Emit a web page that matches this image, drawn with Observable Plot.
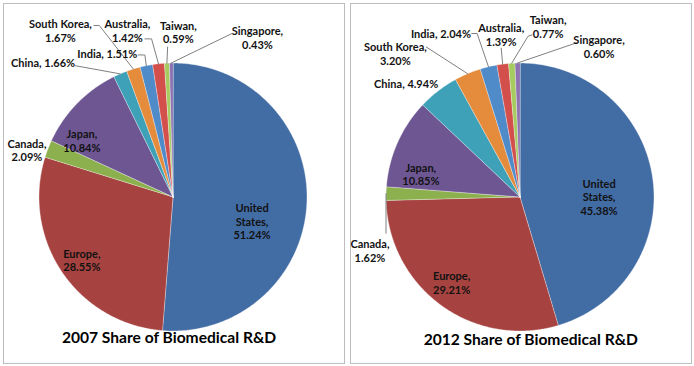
<!DOCTYPE html>
<html><head><meta charset="utf-8">
<script src="https://cdn.jsdelivr.net/npm/d3@7"></script>
<script src="https://cdn.jsdelivr.net/npm/@observablehq/plot@0.6"></script>
<style>
body{margin:0;background:#fff;}
#chart{width:694px;height:366px;}
</style></head><body><div id="chart"></div>
<script>
// ---- data ----
const countries = ["United States","Europe","Canada","Japan","China","South Korea","India","Australia","Taiwan","Singapore"];
const share2007 = [51.24, 28.55, 2.09, 10.84, 1.66, 1.67, 1.51, 1.42, 0.59, 0.43];
const share2012 = [45.38, 29.21, 1.62, 10.85, 4.94, 3.20, 2.04, 1.39, 0.77, 0.60];
const years = ["2007", "2012"];
const titles = ["2007 Share of Biomedical R&D", "2012 Share of Biomedical R&D"];
const colors = ["#426ca4","#a6423f","#8db04e","#6e5692","#3fa1b8","#e58b3c","#4f8ac9","#d24f4b","#a6cb5f","#8d72b1"];

// ---- layout (label placement in pie-radius units, origin at pie centre) ----
const singleLine = {"2007": ["China","India"], "2012": ["China","India"]};
const labelPos = {
  "2007": [[0.59,-0.18],[-0.68,-0.47],[-1.09,0.35],[-0.68,0.42],[-0.97,1.00],[-0.84,1.24],[-0.49,1.07],[-0.34,1.24],[0.04,1.23],[0.63,1.19]],
  "2012": [[0.59,0.00],[-0.51,-0.64],[-1.12,-0.40],[-0.74,0.17],[-0.85,0.85],[-0.93,1.07],[-0.59,1.22],[-0.14,1.21],[0.21,1.27],[0.59,1.12]]
};
const leaderStart = {
  "2007": {"China":[[-0.73,0.98]], "South Korea":[[-0.59,1.28],[-0.55,1.28]], "India":[[-0.26,1.06],[-0.21,1.06]],
           "Australia":[[-0.21,1.18],[-0.16,1.18]], "Taiwan":[[-0.04,1.12]], "Singapore":[[0.44,1.22]]},
  "2012": {"Canada":[[-1.00,-0.27]], "South Korea":[[-0.70,1.12]], "India":[[-0.36,1.22],[-0.32,1.22]],
           "Australia":[[-0.14,1.11]], "Taiwan":[[0.09,1.21],[0.06,1.20]], "Singapore":[[0.42,1.15]]}
};
const titlePos = {"2007": [-0.03,-1.05], "2012": [0.08,-1.07]};

const R = 134, W = 694, H = 366, CX = 172.5, CY = 196.5, PW = W / 2;

const seriesByYear = {"2007": share2007, "2012": share2012};
const slicePts = [], leaderPts = [], labels = [], titleRows = [];
for (const [yi, year] of years.entries()) {
  const vals = seriesByYear[year];
  const arcs = d3.pie().sort(null).startAngle(0).endAngle(2 * Math.PI)(vals);
  arcs.forEach((a, i) => {
    const name = countries[i];
    const id = year + name;
    const n = Math.max(2, Math.ceil((a.endAngle - a.startAngle) / (Math.PI / 360)));
    slicePts.push({year, name, id, x: 0, y: 0});
    for (let k = 0; k <= n; k++) {
      const t = a.startAngle + (a.endAngle - a.startAngle) * k / n;
      slicePts.push({year, name, id, x: Math.sin(t), y: Math.cos(t)});
    }
    const v = vals[i].toFixed(2) + "%";
    let txt;
    if (singleLine[year].includes(name)) txt = `${name}, ${v}`;
    else if (name === "United States") txt = `United\nStates,\n${v}`;
    else txt = `${name},\n${v}`;
    const [lx, ly] = labelPos[year][i];
    labels.push({year, x: lx, y: ly, text: txt});
    const ls = leaderStart[year][name];
    if (ls) {
      const mid = (a.startAngle + a.endAngle) / 2;
      ls.forEach(([px, py]) => leaderPts.push({year, id, x: px, y: py}));
      leaderPts.push({year, id, x: Math.sin(mid), y: Math.cos(mid)});
    }
  });
  titleRows.push({year, x: titlePos[year][0], y: titlePos[year][1], text: titles[yi]});
}

const chart = Plot.plot({
  width: W, height: H,
  margin: 0,
  style: {fontFamily: "Lato, 'Open Sans', sans-serif", background: "#fff"},
  fx: {domain: years, padding: 0, axis: null},
  x: {domain: [-CX / R, (PW - CX) / R], axis: null},
  y: {domain: [-(H - CY) / R, CY / R], axis: null},
  color: {domain: countries, range: colors},
  marks: [
    Plot.frame({inset: 3, stroke: "#bdbdbd", strokeWidth: 1}),
    Plot.line(slicePts, {fx: "year", x: "x", y: "y", z: "id", fill: "name", stroke: "#ffffff", strokeWidth: 0.6, strokeOpacity: 0.6, curve: "linear-closed"}),
    Plot.line(leaderPts, {fx: "year", x: "x", y: "y", z: "id", stroke: "#808080", strokeWidth: 1}),
    Plot.text(labels, {fx: "year", x: "x", y: "y", text: "text", fontSize: 11, fontWeight: "bold", fill: "#121212", lineHeight: 1.25}),
    Plot.text(titleRows, {fx: "year", x: "x", y: "y", text: "text", fontSize: 15.6, fontWeight: "bold", fill: "#000"})
  ]
});
document.getElementById("chart").appendChild(chart);
</script></body></html>
